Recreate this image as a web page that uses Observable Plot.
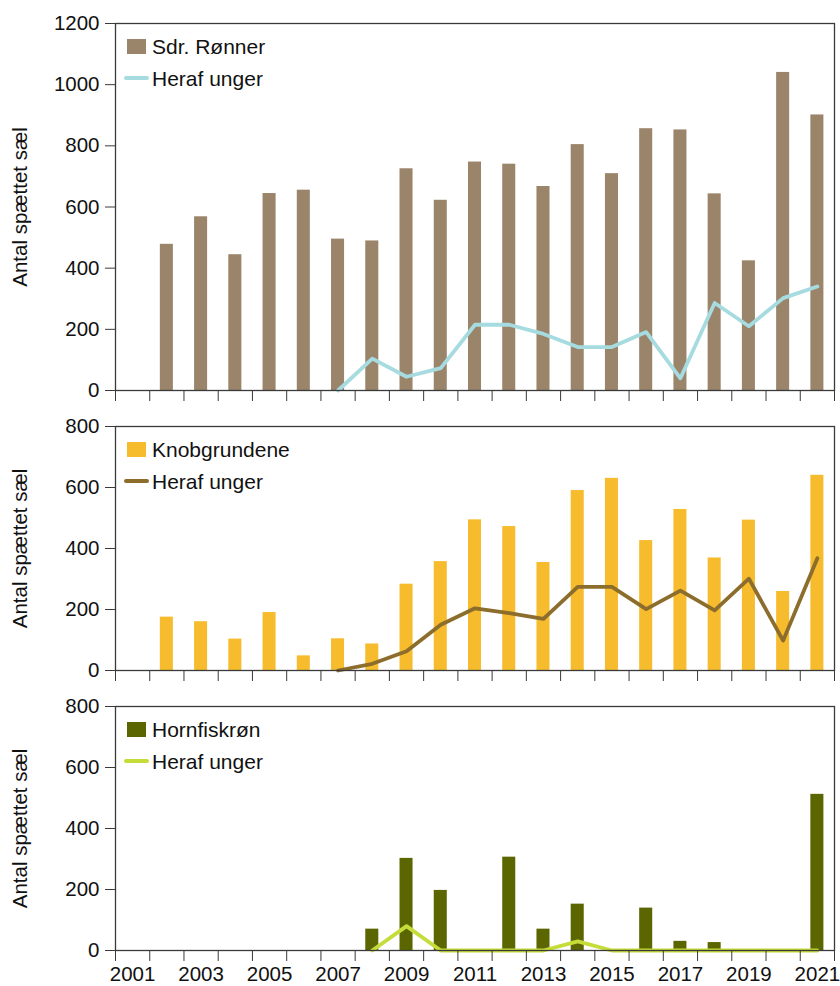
<!DOCTYPE html>
<html>
<head>
<meta charset="utf-8">
<script src="https://cdn.jsdelivr.net/npm/d3@7"></script>
<script src="https://cdn.jsdelivr.net/npm/@observablehq/plot@0.6"></script>
<style>
  body { margin: 0; background: #fff; font-family: "Liberation Sans", Arial, sans-serif; color: #111; }
  #page { position: relative; width: 840px; height: 986px; overflow: hidden; }
  .panel { position: relative; width: 840px; }
  .panel svg { display: block; }
  .lg-row { position: absolute; left: 0; height: 15px; display: flex; align-items: center; }
  .lg-text { position: absolute; left: 152px; font-size: 21px; line-height: 15px; white-space: nowrap; color: #111; }
  .lg-sq { position: absolute; left: 127px; width: 19px; height: 15px; top: 0; }
  .lg-ln { position: absolute; left: 124px; width: 25px; height: 4px; top: 5.5px; border-radius: 2px; }
</style>
</head>
<body>
<div id="page"></div>
<script>
// ---- data ----
const years = [2001, 2002, 2003, 2004, 2005, 2006, 2007, 2008, 2009, 2010, 2011,
               2012, 2013, 2014, 2015, 2016, 2017, 2018, 2019, 2020, 2021];
const xTickLabels = [2001, 2003, 2005, 2007, 2009, 2011, 2013, 2015, 2017, 2019, 2021];

const sdrCounts  = [null, 478, 568, 444, 644, 655, 495, 489, 725, 622, 747, 740, 667, 804, 709, 856, 852, 643, 424, 1040, 901];
const sdrPups    = [null, null, null, null, null, null, 0, 104, 45, 73, 215, 215, 185, 142, 142, 191, 40, 286, 210, 302, 340];

const knobCounts = [null, 175, 160, 103, 190, 48, 104, 87, 283, 357, 494, 472, 354, 590, 630, 426, 528, 369, 493, 259, 640];
const knobPups   = [null, null, null, null, null, null, 0, 22, 63, 150, 204, 188, 169, 274, 274, 201, 262, 197, 301, 98, 368];

const hornCounts = [null, null, null, null, null, null, null, 70, 302, 197, 0, 306, 70, 152, 0, 139, 30, 26, 0, 0, 512];
const hornPups   = [null, null, null, null, null, null, null, 0, 80, 0, 0, 0, 0, 30, 0, 0, 0, 0, 0, 0, 0];

const ticks1200 = [0, 200, 400, 600, 800, 1000, 1200];
const ticks800  = [0, 200, 400, 600, 800];

const yLabel = "Antal spættet sæl";
const pupsLabel = "Heraf unger";

const panels = [
  {name: "Sdr. Rønner", counts: sdrCounts, pups: sdrPups, bar: "#9a846a", line: "#a6dbe0",
   yMax: 1200, yTicks: ticks1200, height: 410, marginTop: 23, marginBottom: 20, xLabels: false},
  {name: "Knobgrundene", counts: knobCounts, pups: knobPups, bar: "#f6bc2e", line: "#8c6d2c",
   yMax: 800, yTicks: ticks800, height: 280, marginTop: 16, marginBottom: 20, xLabels: false},
  {name: "Hornfiskrøn", counts: hornCounts, pups: hornPups, bar: "#5c6600", line: "#c6dc3a",
   yMax: 800, yTicks: ticks800, height: 296, marginTop: 16, marginBottom: 36, xLabels: true}
];

const boundaries = years.map(y => y - 0.5).concat([years[years.length - 1] + 0.5]);

const page = document.getElementById("page");

for (const p of panels) {
  const barData = years.map((year, i) => ({year, count: p.counts[i]})).filter(d => d.count != null && d.count > 0);
  const lineData = years.map((year, i) => ({year, pups: p.pups[i]})).filter(d => d.pups != null);

  const marks = [
    Plot.rectY(barData, {x1: d => d.year - 0.5, x2: d => d.year + 0.5, y: "count",
      fill: p.bar, insetLeft: 10.6, insetRight: 10.6}),
    Plot.lineY(lineData, {x: "year", y: "pups", stroke: p.line, strokeWidth: 3.8,
      strokeLinejoin: "round", strokeLinecap: "round"}),
    Plot.frame({stroke: "#3a3a3a", strokeWidth: 1.3}),
    Plot.axisY({ticks: p.yTicks, tickSize: 10, tickPadding: 6, label: null,
      stroke: "#3a3a3a", fill: "#111", fontSize: 20.5, tickFormat: d => String(d)}),
    Plot.axisX({ticks: boundaries, tickSize: 11, tickFormat: () => "", label: null, stroke: "#3a3a3a"}),
    Plot.text([yLabel], {text: d => d, frameAnchor: "left", textAnchor: "middle", lineAnchor: "middle",
      rotate: -90, dx: -95, fontSize: 20.5, fill: "#111"})
  ];
  if (p.xLabels) {
    marks.push(Plot.axisX({ticks: xTickLabels, tickSize: 0, tickPadding: 16, label: null,
      fontSize: 20.5, fill: "#111", tickFormat: d => String(d)}));
  }

  const chart = Plot.plot({
    width: 840,
    height: p.height,
    marginLeft: 115,
    marginRight: 6,
    marginTop: p.marginTop,
    marginBottom: p.marginBottom,
    style: {fontFamily: "'Liberation Sans', Arial, sans-serif", fontSize: "20.5px", color: "#111", background: "#fff", overflow: "visible"},
    x: {type: "linear", domain: [boundaries[0], boundaries[boundaries.length - 1]]},
    y: {domain: [0, p.yMax]},
    marks
  });

  const div = document.createElement("div");
  div.className = "panel";
  div.style.height = p.height + "px";
  div.appendChild(chart);

  // legend (inside plot area, top-left)
  const row1 = document.createElement("div");
  row1.className = "lg-row";
  row1.style.top = (p.marginTop + 16) + "px";
  row1.innerHTML = `<span class="lg-sq" style="background:${p.bar}"></span><span class="lg-text">${p.name}</span>`;
  const row2 = document.createElement("div");
  row2.className = "lg-row";
  row2.style.top = (p.marginTop + 55 - 7.5) + "px";
  row2.innerHTML = `<span class="lg-ln" style="background:${p.line}"></span><span class="lg-text">${pupsLabel}</span>`;
  div.appendChild(row1);
  div.appendChild(row2);
  page.appendChild(div);
}
</script>
</body>
</html>
